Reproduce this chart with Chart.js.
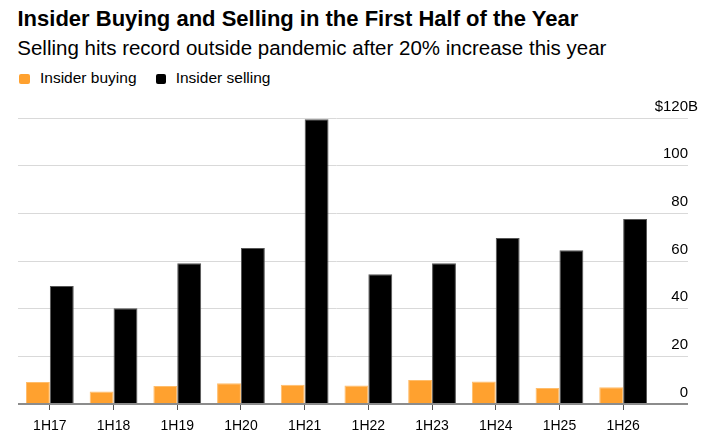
<!DOCTYPE html>
<html>
<head>
<meta charset="utf-8">
<script src="https://cdn.jsdelivr.net/npm/chart.js@4"></script>
<style>
  body { margin: 0; width: 711px; height: 445px; background: #fff; position: relative; overflow: hidden;
         font-family: "Liberation Sans", Arial, Helvetica, sans-serif; color: #000; }
  .title { position: absolute; left: 17.5px; top: 8px; font-size: 22px; line-height: 22px; font-weight: bold; white-space: nowrap; }
  .subtitle { position: absolute; left: 17.3px; top: 37.6px; font-size: 20.5px; line-height: 20.5px; white-space: nowrap; }
  .legend { position: absolute; top: 69.6px; left: 0; font-size: 15.5px; line-height: 15.5px; white-space: nowrap; }
  .legend span.box { position: absolute; top: 4px; width: 10.5px; height: 10.5px; border-radius: 2px; }
  .legend span.txt { position: absolute; top: 0; }
  #wrap { position: absolute; left: 0; top: 95px; width: 711px; height: 350px; }
</style>
</head>
<body>
<div class="title">Insider Buying and Selling in the First Half of the Year</div>
<div class="subtitle">Selling hits record outside pandemic after 20% increase this year</div>
<div class="legend" id="legend"></div>
<div id="wrap"><canvas id="canvas"></canvas></div>
<script>
// данные графика
const periods = ['1H17', '1H18', '1H19', '1H20', '1H21', '1H22', '1H23', '1H24', '1H25', '1H26'];
const buying = [9.2, 5.3, 7.6, 8.7, 8.1, 7.8, 10.1, 9.5, 6.7, 7.0];
const selling = [49.6, 40.2, 59.1, 65.5, 119.6, 54.5, 59.1, 69.7, 64.6, 77.7];
const yTicks = [0, 20, 40, 60, 80, 100, 120];
const seriesNames = ['Insider buying', 'Insider selling'];

const ORANGE = '#ffa12f';
const BLACK = '#000000';
const GRID = '#d9d9d9';
const ZERO = '#8c8c8c';

// легенда в HTML
const legendPos = [[19, 40], [155.5, 175.7]];
const legendDiv = document.getElementById('legend');
seriesNames.forEach((name, i) => {
    const box = document.createElement('span');
    box.className = 'box';
    box.style.left = legendPos[i][0] + 'px';
    box.style.background = i === 0 ? ORANGE : BLACK;
    const txt = document.createElement('span');
    txt.className = 'txt';
    txt.style.left = legendPos[i][1] + 'px';
    txt.textContent = name;
    legendDiv.appendChild(box);
    legendDiv.appendChild(txt);
});

// подписи оси Y справа, над линиями сетки
const yLabels = {
    id: 'yLabels',
    afterDraw(chart) {
        const { ctx } = chart;
        const y = chart.scales.y;
        ctx.save();
        ctx.font = '15px "Liberation Sans", Arial, sans-serif';
        ctx.fillStyle = '#000';
        ctx.textBaseline = 'alphabetic';
        y.ticks.forEach(t => {
            if (!yTicks.includes(t.value)) return;
            const py = y.getPixelForValue(t.value) - 7.5;
            const top = t.value === yTicks[yTicks.length - 1];
            ctx.textAlign = 'right';
            ctx.fillText(top ? '$' + t.value : String(t.value), y.right, py);
            if (top) {
                ctx.textAlign = 'left';
                ctx.fillText('B', y.right, py);
            }
        });
        ctx.restore();
    }
};

Chart.defaults.font.family = '"Liberation Sans", Arial, sans-serif';
Chart.defaults.color = '#000';

const ctx = document.getElementById('canvas').getContext('2d');
new Chart(ctx, {
    type: 'bar',
    data: {
        labels: periods,
        datasets: [{
            label: seriesNames[0],
            data: buying,
            backgroundColor: ORANGE,
            borderColor: '#ffbd6b',
            borderWidth: 1
        }, {
            label: seriesNames[1],
            data: selling,
            backgroundColor: BLACK,
            borderColor: '#555555',
            borderWidth: 1
        }]
    },
    options: {
        responsive: true,
        maintainAspectRatio: false,
        animation: false,
        layout: { padding: { left: 18, right: 23, top: 23.3, bottom: 3.6 } },
        plugins: {
            legend: { display: false },
            tooltip: { enabled: false }
        },
        datasets: {
            bar: { categoryPercentage: 0.75, barPercentage: 1.0 }
        },
        scales: {
            x: {
                border: { display: false },
                grid: {
                    offset: false,
                    drawOnChartArea: false,
                    drawTicks: true,
                    tickLength: 6,
                    color: '#555'
                },
                ticks: { font: { size: 14 }, padding: 7.3, color: '#000', maxRotation: 0 }
            },
            y: {
                position: 'right',
                min: 0,
                max: 120,
                border: { display: false },
                grid: {
                    tickLength: 33,
                    color: c => (c.tick && c.tick.value === 0 ? ZERO : GRID),
                    lineWidth: c => (c.tick && c.tick.value === 0 ? 2 : 1)
                },
                ticks: { stepSize: 20, display: false }
            }
        }
    },
    plugins: [yLabels]
});
</script>
</body>
</html>
